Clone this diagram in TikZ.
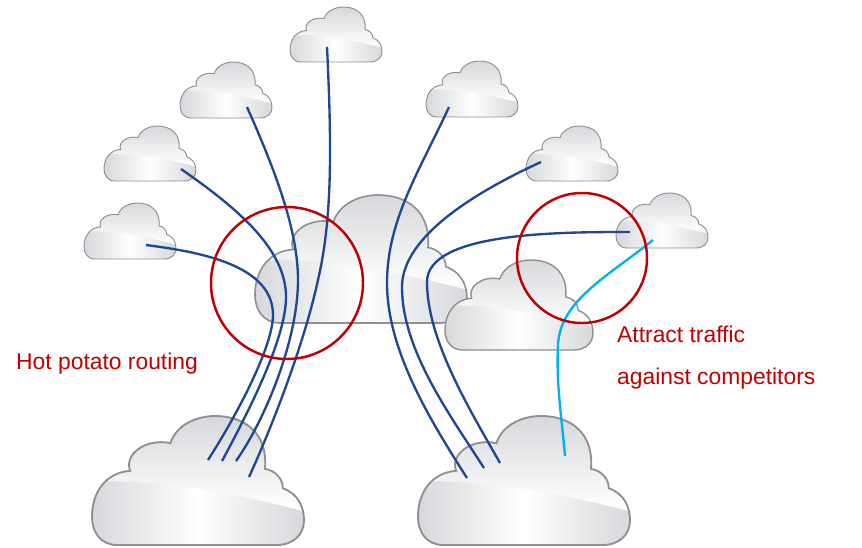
\documentclass[tikz,border=0pt]{standalone}
\usepackage{fontspec}
\setmainfont{Liberation Sans}
\usetikzlibrary{positioning}
\definecolor{cloudgray}{HTML}{D6D8DB}
\definecolor{cloudedge}{HTML}{8E9092}
\definecolor{routeblue}{HTML}{1F4796}
\definecolor{routered}{HTML}{C00000}
\definecolor{routecyan}{HTML}{00B0F0}
\tikzset{
  route/.style={draw=routeblue,line width=2pt},
  attract/.style={draw=routecyan,line width=2pt},
  ring/.style={draw=routered,line width=2.1pt},
  callout/.style={text=routered,font=\fontsize{19.5pt}{23pt}\selectfont,anchor=base west,inner sep=0pt},
}
\newcommand{\cloudoutline}{(0.12,1) .. controls (0.04,1) and (0,0.9) .. (0,0.78)
  .. controls (0,0.6) and (0.06,0.44) .. (0.18,0.425)
  .. controls (0.15,0.3) and (0.25,0.17) .. (0.37,0.21)
  .. controls (0.40,0.06) and (0.5,0) .. (0.58,0)
  .. controls (0.72,0) and (0.83,0.13) .. (0.816,0.41)
  .. controls (0.86,0.42) and (0.90,0.48) .. (0.90,0.56)
  .. controls (0.97,0.6) and (1,0.7) .. (1,0.81)
  .. controls (1,0.92) and (0.95,1) .. (0.87,1) -- cycle}
\begin{document}
\begin{tikzpicture}[x=0.03cm,y=-0.03cm]
  \useasboundingbox (0,0) rectangle (862,547);

  % Clouds: left, top, width, height, edge
  \foreach \cx/\cy/\cw/\ch/\ce in {255/195/212/128/1.4pt,445/260/148/90/1.2pt,
      290/7/92/55/0.8pt,180/62/92/56/0.8pt,104/126/92/55/0.8pt,84/203/92/56/0.8pt,
      426/61/92/56/0.8pt,526/126/92/55/0.8pt,616/193/92/55/0.8pt,
      92/416/212/129/1.6pt,418/416/212/129/1.6pt}{
    \begin{scope}[shift={(\cx,\cy)},x={\cw*0.03cm},y={\ch*-0.03cm}]
      \begin{scope}
        \clip \cloudoutline;
        \shade[top color=cloudgray,bottom color=white] (0,0) rectangle (1,0.72);
        \shade[left color=cloudgray,right color=cloudgray,middle color=white]
          (0,1) -- (0,0.51) .. controls (0.3,0.49) and (0.6,0.57) .. (1,0.74) -- (1,1) -- cycle;
      \end{scope}
      \draw[cloudedge,line width=\ce] \cloudoutline;
    \end{scope}
  }

  % Route ends in the clouds
  \coordinate (west1) at (146,245);
  \coordinate (west2) at (181,169);
  \coordinate (west3) at (247,107);
  \coordinate (top1) at (327,47);
  \coordinate (east1) at (449,107);
  \coordinate (east2) at (541,162);
  \coordinate (east3) at (630,232);
  \coordinate (east4) at (653,240);
  \coordinate (left1) at (208,460);
  \coordinate (left2) at (222,461);
  \coordinate (left3) at (236,461);
  \coordinate (left4) at (249,477);
  \coordinate (right1) at (467,478);
  \coordinate (right2) at (484,468);
  \coordinate (right3) at (500,463);
  \coordinate (right4) at (565,456);

  % Routes
  \draw[route] (west1) .. controls (200,252) and (273,265) .. (273,315) .. controls (273,345) and (240,410) .. (left1);
  \draw[route] (west2) .. controls (240,210) and (286,250) .. (286,297) .. controls (286,335) and (255,400) .. (left2);
  \draw[route] (west3) .. controls (275,170) and (298,230) .. (298,280) .. controls (298,340) and (265,420) .. (left3);
  \draw[route] (top1) .. controls (332,150) and (332,220) .. (318,280) .. controls (305,340) and (275,420) .. (left4);
  \draw[route] (east1) .. controls (420,170) and (387,220) .. (387,283) .. controls (387,350) and (430,420) .. (right1);
  \draw[route] (east2) .. controls (480,190) and (402,235) .. (402,287) .. controls (402,350) and (450,415) .. (right2);
  \draw[route] (east3) .. controls (560,232) and (427,232) .. (427,282) .. controls (427,340) and (470,410) .. (right3);
  \draw[attract] (east4) .. controls (610,275) and (560,300) .. (558,345) .. controls (556,385) and (562,420) .. (right4);

  % Highlights
  \node[ring,circle,minimum size=152*0.03cm,inner sep=0pt] (hotring) at (287,283) {};
  \node[ring,circle,minimum size=130*0.03cm,inner sep=0pt] (attractring) at (582,258) {};

  % Labels
  \node[callout] (hotlabel) at (16,369) {Hot potato routing};
  \node[callout] (attractlabel) at (617,342) {Attract traffic};
  \node[callout] (againstlabel) at (617,384) {against competitors};
\end{tikzpicture}
\end{document}
